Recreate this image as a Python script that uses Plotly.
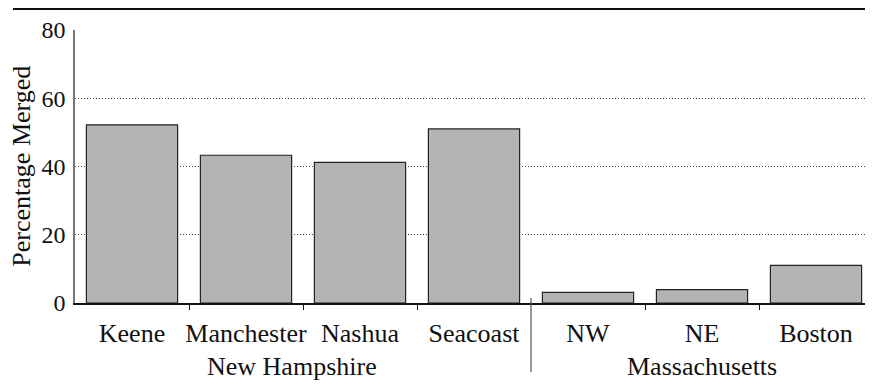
import plotly.graph_objects as go

categories = ["Keene", "Manchester", "Nashua", "Seacoast", "NW", "NE", "Boston"]
values = [52.2, 43.3, 41.2, 51, 3.1, 3.9, 11]
groups = ["New Hampshire", "Massachusetts"]
group_pos = [1.4, 5.0]
y_ticks = [0, 20, 40, 60, 80]
boundary_ticks = [0.5, 1.5, 2.5, 4.5, 5.5]
divider_pos = 3.5
y_title = "Percentage Merged"

FONT = "Liberation Serif, Times New Roman, serif"
FS = 26

x_idx = list(range(len(categories)))

fig = go.Figure()
fig.add_trace(go.Bar(
    x=x_idx, y=values, width=0.8,
    marker=dict(color="#b3b3b3", line=dict(color="#222222", width=1.2)),
    showlegend=False, hoverinfo="skip",
))
# invisible trace to activate overlay axis for boundary ticks
fig.add_trace(go.Scatter(x=[-0.5, 6.5], y=[0, 0], xaxis="x2", mode="markers",
                         marker=dict(opacity=0), showlegend=False, hoverinfo="skip"))

fig.update_layout(
    width=865, height=376,
    margin=dict(l=67, r=0, t=22, b=81, autoexpand=False),
    paper_bgcolor="white", plot_bgcolor="white",
    font=dict(family=FONT, size=FS, color="#111111"),
    xaxis=dict(
        range=[-0.5, 6.5], tickmode="array", tickvals=x_idx, ticktext=categories,
        showgrid=False, zeroline=False, showline=True, linecolor="#111111", linewidth=1.5,
        ticks="", tickfont=dict(family=FONT, size=FS), ticklabelstandoff=6,
        automargin=False,
    ),
    xaxis2=dict(
        range=[-0.5, 6.5], overlaying="x", side="bottom", tickmode="array",
        tickvals=boundary_ticks, ticks="outside", ticklen=6, tickcolor="#111111",
        tickwidth=1, showticklabels=False, showgrid=False, zeroline=False, showline=False,
    ),
    yaxis=dict(
        range=[0, 80], tickmode="array", tickvals=y_ticks,
        showgrid=True, gridcolor="#444444", griddash="1px,2px", gridwidth=1,
        zeroline=False, showline=True, linecolor="#777777", linewidth=1.5,
        ticks="", tickfont=dict(family=FONT, size=24), ticklabelstandoff=3,
        automargin=False,
    ),
)

# y-axis title
fig.add_annotation(x=-0.0675, xref="paper", y=0.5, yref="paper", text=y_title,
                   textangle=-90, showarrow=False, xanchor="center", yanchor="middle",
                   font=dict(family=FONT, size=FS))
# top rule
fig.add_shape(type="line", xref="paper", yref="paper", x0=-0.0777, x1=1.0,
              y0=1.077, y1=1.077, line=dict(color="#111111", width=2))
# divider between states
fig.add_shape(type="line", xref="x", yref="paper", x0=divider_pos, x1=divider_pos,
              y0=0.018, y1=-0.253, line=dict(color="#555555", width=1.2))

for g, p in zip(groups, group_pos):
    fig.add_annotation(x=p, xref="x", y=-0.231, yref="paper", text=g, showarrow=False,
                       font=dict(family=FONT, size=FS), yanchor="middle")

fig.write_html("out.html")
